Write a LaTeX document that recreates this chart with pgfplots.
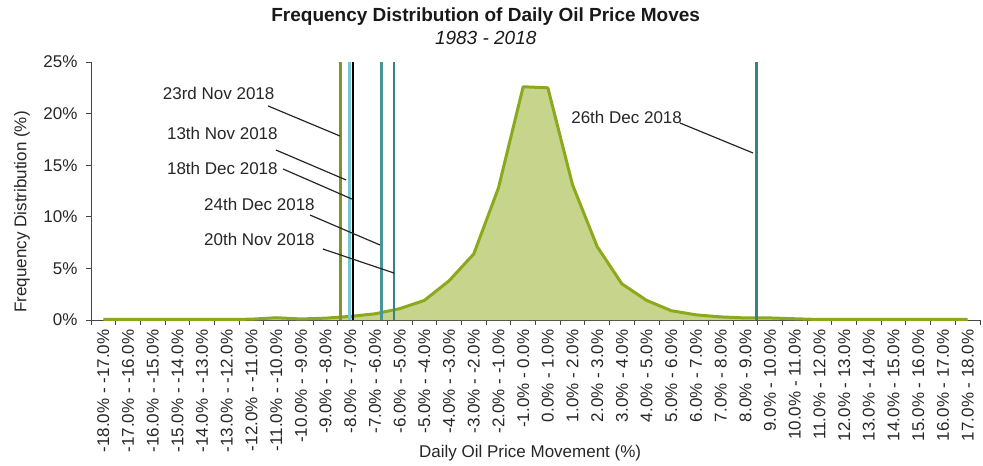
\documentclass[border=0pt]{standalone}
\usepackage{pgfplots}
\pgfplotsset{compat=1.18}
\usepackage{fontspec}
\setmainfont{Liberation Sans}
\definecolor{curve}{RGB}{138,170,28}
\definecolor{areafill}{RGB}{198,212,140}
\definecolor{olivel}{RGB}{128,148,40}
\definecolor{cyanl}{RGB}{120,200,210}
\definecolor{teall}{RGB}{70,150,152}
\definecolor{teald}{RGB}{58,130,132}
\definecolor{axgray}{RGB}{70,70,70}
\pgfplotstableread{
x y
-17.5 0.05
-16.5 0.05
-15.5 0.05
-14.5 0.05
-13.5 0.05
-12.5 0.05
-11.5 0.08
-10.5 0.22
-9.5 0.1
-8.5 0.18
-7.5 0.35
-6.5 0.6
-5.5 1.1
-4.5 1.9
-3.5 3.8
-2.5 6.4
-1.5 12.8
-0.5 22.6
0.5 22.5
1.5 13.1
2.5 7.1
3.5 3.5
4.5 1.9
5.5 0.9
6.5 0.5
7.5 0.3
8.5 0.2
9.5 0.2
10.5 0.12
11.5 0.05
12.5 0.05
13.5 0.05
14.5 0.05
15.5 0.05
16.5 0.05
17.5 0.05
}\dist
\begin{document}
\begin{tikzpicture}
\begin{axis}[
  scale only axis, width=889pt, height=258pt,
  xmin=-18, xmax=18, ymin=0, ymax=25,
  axis x line*=bottom, axis y line*=left,
  axis line style={draw=axgray, line width=0.9pt},
  xtick={-17.5,-16.5,...,17.5},
  xticklabels={
    -18.0\% - -17.0\%,-17.0\% - -16.0\%,-16.0\% - -15.0\%,-15.0\% - -14.0\%,
    -14.0\% - -13.0\%,-13.0\% - -12.0\%,-12.0\% - -11.0\%,-11.0\% - -10.0\%,
    -10.0\% - -9.0\%,-9.0\% - -8.0\%,-8.0\% - -7.0\%,-7.0\% - -6.0\%,
    -6.0\% - -5.0\%,-5.0\% - -4.0\%,-4.0\% - -3.0\%,-3.0\% - -2.0\%,
    -2.0\% - -1.0\%,-1.0\% - 0.0\%,0.0\% - 1.0\%,1.0\% - 2.0\%,
    2.0\% - 3.0\%,3.0\% - 4.0\%,4.0\% - 5.0\%,5.0\% - 6.0\%,
    6.0\% - 7.0\%,7.0\% - 8.0\%,8.0\% - 9.0\%,9.0\% - 10.0\%,
    10.0\% - 11.0\%,11.0\% - 12.0\%,12.0\% - 13.0\%,13.0\% - 14.0\%,
    14.0\% - 15.0\%,15.0\% - 16.0\%,16.0\% - 17.0\%,17.0\% - 18.0\%},
  minor xtick={-18,-17,...,18},
  ytick={0,5,...,25}, minor ytick={0,5,...,25},
  yticklabels={0\%,5\%,10\%,15\%,20\%,25\%},
  major tick length=0pt, minor tick length=5pt, tick align=outside,
  tick style={axgray, line width=0.9pt},
  xticklabel style={rotate=90, anchor=east, font=\fontsize{17}{20}\selectfont, text=black!85},
  yticklabel style={font=\fontsize{17}{20}\selectfont, text=black!85},
  xticklabel shift=6pt,
  yticklabel shift=10pt,
  xlabel={Daily Oil Price Movement (\%)},
  xlabel style={at={(axis description cs:0.494,0)}, anchor=center, yshift=-133pt, font=\fontsize{17}{20}\selectfont, text=black!85},
  ylabel={Frequency Distribution (\%)},
  ylabel style={at={(axis description cs:-0.0775,0.419)}, anchor=center, font=\fontsize{17}{20}\selectfont, text=black!85},
  clip=false,
]
\addplot[fill=areafill, draw=none] table[x=x,y=y]{\dist} \closedcycle;
\addplot[curve, line width=3pt, line join=round] table[x=x,y=y]{\dist};

\addplot[olivel, line width=2.5pt] coordinates {(-7.89,0) (-7.89,25)};
\addplot[cyanl, line width=2.5pt] coordinates {(-7.53,0) (-7.53,25)};
\addplot[black, line width=2.2pt] coordinates {(-7.40,0) (-7.40,25)};
\addplot[teall, line width=2.5pt] coordinates {(-6.23,0) (-6.23,25)};
\addplot[teald, line width=2.5pt] coordinates {(-5.72,0) (-5.72,25)};
\addplot[teald, line width=2.5pt] coordinates {(8.95,0) (8.95,25)};

\draw[black!85, line width=1.2pt] (axis cs:-10.83,20.74) -- (axis cs:-7.92,17.83);
\draw[black!85, line width=1.2pt] (axis cs:-10.51,16.47) -- (axis cs:-7.67,13.57);
\draw[black!85, line width=1.2pt] (axis cs:-10.22,14.63) -- (axis cs:-7.43,11.72);
\draw[black!85, line width=1.2pt] (axis cs:-9.13,10.17) -- (axis cs:-6.30,7.27);
\draw[black!85, line width=1.2pt] (axis cs:-8.61,6.88) -- (axis cs:-5.73,4.55);
\draw[black!85, line width=1.2pt] (axis cs:5.85,19.09) -- (axis cs:8.81,16.18);

\node[font=\fontsize{17}{20}\selectfont, text=black!85, inner sep=0pt] at (axis cs:-12.83,21.93) {23rd Nov 2018};
\node[font=\fontsize{17}{20}\selectfont, text=black!85, inner sep=0pt] at (axis cs:-12.68,18.05) {13th Nov 2018};
\node[font=\fontsize{17}{20}\selectfont, text=black!85, inner sep=0pt] at (axis cs:-12.68,14.73) {18th Dec 2018};
\node[font=\fontsize{17}{20}\selectfont, text=black!85, inner sep=0pt] at (axis cs:-11.18,11.19) {24th Dec 2018};
\node[font=\fontsize{17}{20}\selectfont, text=black!85, inner sep=0pt] at (axis cs:-11.18,7.85) {20th Nov 2018};
\node[font=\fontsize{17}{20}\selectfont, text=black!85, inner sep=0pt] at (axis cs:3.69,19.67) {26th Dec 2018};

\node[font=\bfseries\fontsize{19}{22}\selectfont, text=black!90, anchor=base, inner sep=0pt] at (rel axis cs:0.444,1) [yshift=40pt] {Frequency Distribution of Daily Oil Price Moves};
\node[font=\itshape\fontsize{19}{22}\selectfont, text=black!90, anchor=base, inner sep=0pt] at (rel axis cs:0.444,1) [yshift=17pt] {1983 - 2018};
\end{axis}
\pgfresetboundingbox
\useasboundingbox (-91pt,-146pt) rectangle (892pt,320pt);
\end{tikzpicture}
\end{document}
